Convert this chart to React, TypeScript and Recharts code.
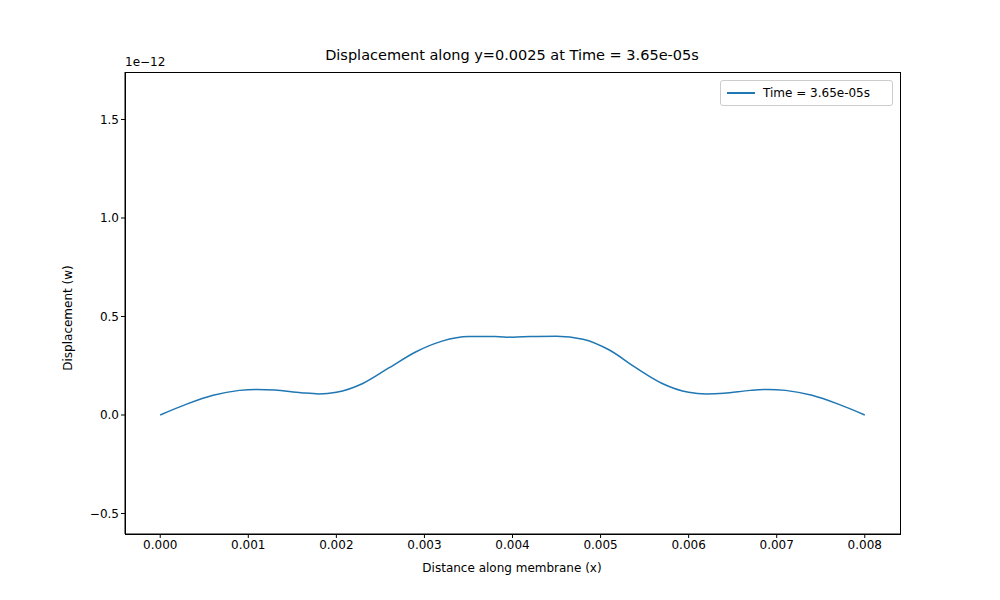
import { LineChart, Line, XAxis, YAxis } from "recharts";

// x positions (m) and displacement (×1e-12)
const xs = [0, 0.0003, 0.0006, 0.0009, 0.0011, 0.0013, 0.0016, 0.0018, 0.002, 0.0023, 0.0026, 0.0029, 0.0032, 0.0035, 0.0038, 0.004, 0.0042, 0.0045, 0.0048, 0.0051, 0.0054, 0.0057, 0.006, 0.0062, 0.0064, 0.0067, 0.0069, 0.0071, 0.0074, 0.0077, 0.008];
const ws = [0, 0.055, 0.1, 0.125, 0.13, 0.127, 0.113, 0.107, 0.115, 0.16, 0.24, 0.32, 0.375, 0.398, 0.398, 0.395, 0.398, 0.4, 0.385, 0.33, 0.24, 0.16, 0.115, 0.107, 0.11, 0.125, 0.13, 0.125, 0.1, 0.055, 0];
const xTicks = [0, 0.001, 0.002, 0.003, 0.004, 0.005, 0.006, 0.007, 0.008];
const yTicks = [-0.5, 0, 0.5, 1.0, 1.5];

const data = xs.map((x, i) => ({ x, w: ws[i] }));
const font = "DejaVu Sans, sans-serif";
const tick = { fontSize: 12, fill: "#000", fontFamily: font };

export default function App() {
  return (
    <div style={{ position: "absolute", left: 0, top: 0, width: 1000, height: 600, background: "#fff", fontFamily: font }}>
      <div style={{ position: "absolute", top: 47, width: 1000, left: 12, textAlign: "center", fontSize: 14.5 }}>
        Displacement along y=0.0025 at Time = 3.65e-05s
      </div>
      <div style={{ position: "absolute", top: 55, left: 125, fontSize: 12 }}>1e−12</div>
      <div style={{ position: "absolute", top: 561, width: 1000, left: 12, textAlign: "center", fontSize: 12 }}>
        Distance along membrane (x)
      </div>
      <div style={{ position: "absolute", left: 68, top: 318, transform: "translate(-50%,-50%) rotate(-90deg)", fontSize: 12, whiteSpace: "nowrap" }}>
        Displacement (w)
      </div>
      <LineChart width={1000} height={600} data={data} margin={{ top: 72, right: 100, left: 65, bottom: 26 }}>
        <XAxis dataKey="x" type="number" domain={[-0.0004, 0.0084]} ticks={xTicks} tickFormatter={(v) => v.toFixed(3)} tick={tick} stroke="#000" tickSize={4} height={40} />
        <YAxis type="number" domain={[-0.604, 1.741]} ticks={yTicks} tickFormatter={(v) => v.toFixed(1).replace("-", "\u2212")} tick={tick} stroke="#000" tickSize={4} width={60} allowDataOverflow />
        <Line type="monotone" dataKey="w" stroke="#1f77b4" strokeWidth={1.5} dot={false} isAnimationActive={false} />
      </LineChart>
      <div style={{ position: "absolute", left: 125, top: 72, width: 774, height: 461, border: "1px solid #000", pointerEvents: "none" }} />
      <div style={{ position: "absolute", left: 720, top: 80, width: 171, height: 24, border: "1px solid #ccc", borderRadius: 3, fontSize: 12, display: "flex", alignItems: "center" }}>
        <span style={{ display: "inline-block", width: 28, height: 2, background: "#1f77b4", margin: "0 8px 0 6px" }} />
        Time = 3.65e-05s
      </div>
    </div>
  );
}
